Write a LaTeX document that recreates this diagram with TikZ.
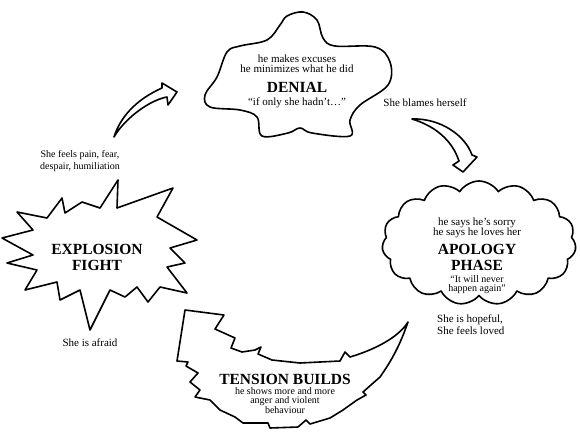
\documentclass[tikz,border=0pt]{standalone}
\usepackage{fontspec}
\setmainfont{Liberation Serif}
\usetikzlibrary{shapes.symbols}
\newcommand{\ttlfont}{\fontsize{15.5}{16}\selectfont\bfseries}
\tikzset{
  outl/.style = {draw=black, line width=1.6pt, line join=round, fill=white},
  txt/.style  = {font=\fontsize{11}{12}\selectfont, align=center, inner sep=1pt},
  ctxt/.style = {txt, anchor=base},
  stxt/.style = {ctxt, font=\fontsize{10}{10}\selectfont},
  ttl/.style  = {font=\ttlfont, align=center, inner sep=1pt}
}

\begin{document}
\begin{tikzpicture}[x=1pt, y=-1pt]
  \useasboundingbox (0,0) rectangle (580,437);
  % denial blob
  \draw[outl] plot[smooth cycle, tension=0.6] coordinates {
      (287,16) (303,12) (317,20) (323,38) (335,46) (375,47) (390,62)
      (388,85) (360,105) (350,120) (350,136) (312,133) (300,128)
      (288,133) (262,136) (257,117) (240,110) (210,107) (205,95)
      (217,77) (227,52) (240,46) (267,40) (280,25)};
  \node[ctxt] (excuses) at (297,62.7) {he makes excuses};
  \node[ctxt] (minimizes) at (297,72.7) {he minimizes what he did};
  \node[ttl, anchor=base] (denial) at (297,92.7) {DENIAL};
  \node[ctxt] (ifonly) at (297,105) {``if only she hadn't\ldots''};
  % apology cloud
  \node[cloud, cloud puffs=15, cloud puff arc=115, cloud ignores aspect,
        outl, minimum width=194pt, minimum height=124pt] (apologycloud) at (479,243) {};
  \node[ctxt] (sorry) at (477,225) {he says he's sorry};
  \node[ctxt] (loves) at (477,235) {he says he loves her};
  \node[ttl, anchor=base] (apology) at (477,254) {APOLOGY};
  \node[ttl, anchor=base] (phase) at (477,270.5) {PHASE};
  \node[stxt] (never) at (477,282) {``It will never};
  \node[stxt] (again) at (477,291.5) {happen again''};
  % explosion star
  \draw[outl] (118,180) -- (117,208) -- (173,188) -- (157,217) -- (197,240)
      -- (170,248) -- (185,263) -- (167,267) -- (187,293) -- (160,287)
      -- (148,302) -- (137,287) -- (125,297) -- (110,290) -- (90,330)
      -- (80,290) -- (60,300) -- (57,282) -- (25,290) -- (37,270)
      -- (7,263) -- (33,255) -- (2,238) -- (33,230) -- (17,212)
      -- (47,218) -- (62,198) -- (65,213) -- (82,202) -- (100,208) -- cycle;
  \node[ttl, anchor=north] (explosiontxt) at (97,242.7) {EXPLOSION\\FIGHT};
  % tension arrow
  \draw[outl] (185,310) -- (224,315) -- (215,329) -- (235,338) -- (231,348)
      -- (242,352) -- (255,350) -- (261,347) -- (258,354) -- (272,360)
      -- (300,363) -- (340,361) -- (345,352) -- (350,357)
      .. controls (380,348) and (400,335) .. (408,322)
      .. controls (400,345) and (392,360) .. (380,377)
      -- (363,392) -- (366,395) -- (357,400) -- (343,410) -- (330,418)
      -- (310,424) -- (306,420) -- (298,427) -- (270,428) -- (268,423)
      -- (243,423) -- (235,417) -- (220,410) -- (210,400) -- (195,397)
      -- (200,390) -- (190,382) -- (198,373) -- (186,366) -- (188,362)
      -- (177,361) -- cycle;
  \node[ttl, anchor=base] (tension) at (285,384) {TENSION BUILDS};
  \node[stxt] (shows) at (285,394.5) {he shows more and more};
  \node[stxt] (anger) at (285,403.5) {anger and violent};
  \node[stxt] (behaviour) at (285,413) {behaviour};
  % curved arrows
  \draw[outl] (114,137) .. controls (120,118) and (135,100) .. (162,88)
      -- (162,83) -- (177,92) -- (168,105) -- (167,97)
      .. controls (150,100) and (125,118) .. (114,137) -- cycle;
  \draw[outl] (412,119) .. controls (440,118) and (465,135) .. (472,155)
      -- (477,157) -- (463,172) -- (453,165) -- (459,161)
      .. controls (452,140) and (435,126) .. (412,119) -- cycle;
  % side labels
  \node[txt, font=\fontsize{10}{12}\selectfont] (painlbl) at (80,161)
       {She feels pain, fear,\\despair, humiliation};
  \node[txt] (afraidlbl) at (90,343) {She is afraid};
  \node[txt] (blameslbl) at (425,103) {She blames herself};
  \node[txt, align=left, anchor=west] (hopefullbl) at (436,325)
       {She is hopeful,\\She feels loved};
\end{tikzpicture}
\end{document}
